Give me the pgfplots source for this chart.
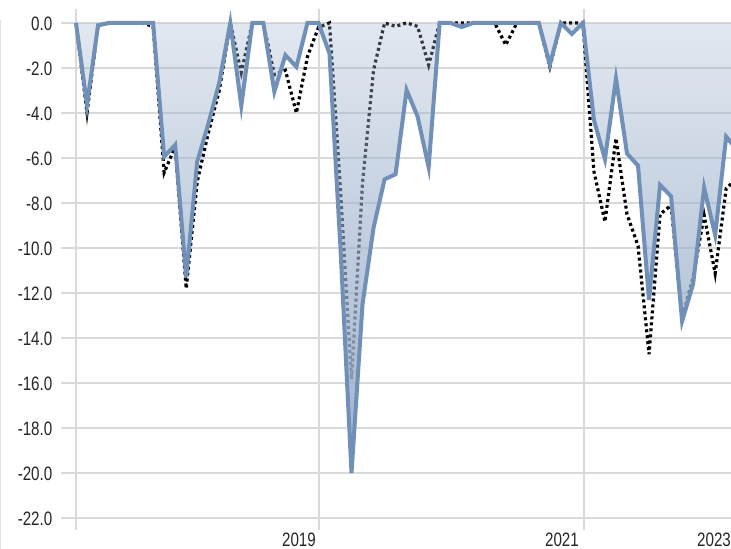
\documentclass[border=0pt]{standalone}
\usepackage{fontspec}
\setmainfont{Liberation Sans}[FakeStretch=0.78]
\usepackage{pgfplots}
\usepackage{pgfplotstable}
\pgfplotsset{compat=1.18}
\usetikzlibrary{fadings}
\definecolor{gridc}{HTML}{D9D9D9}
\definecolor{blueline}{HTML}{7090B8}
\definecolor{areac}{HTML}{9EB2CD}
\tikzfading[name=areafade, top color=transparent!70, bottom color=transparent!0]

\pgfplotstableread{
i blue dot
0 0 0
1 -3.64 -3.98
2 -0.10 -0.10
3 0 0
4 0 0
5 0 0
6 0 0
7 0 -0.15
8 -5.94 -6.65
9 -5.42 -5.50
10 -11.30 -11.80
11 -6.16 -7.05
12 -4.50 -4.90
13 -2.65 -3.00
14 0 0
15 -3.68 -2.20
16 0 0
17 0 0
18 -3.05 -2.30
19 -1.43 -2.10
20 -1.95 -4.00
21 0 -1.50
22 0 -0.20
23 -1.35 0
24 -10.00 -7.40
25 -20.00 -15.85
26 -12.50 -7.10
27 -9.10 -2.10
28 -6.95 0
29 -6.72 -0.15
30 -2.98 0
31 -4.16 -0.15
32 -6.41 -1.87
33 0 0
34 0 0
35 -0.18 0
36 0 0
37 0 0
38 0 0
39 0 -0.98
40 0 0
41 0 0
42 0 0
43 -1.85 -1.95
44 0 0
45 -0.49 0
46 0 0
47 -4.31 -6.60
48 -6.05 -8.83
49 -2.47 -5.13
50 -5.80 -8.50
51 -6.34 -9.90
52 -12.31 -14.72
53 -7.20 -8.50
54 -7.70 -8.10
55 -13.25 -13.10
56 -11.60 -11.30
57 -7.32 -8.55
58 -9.42 -11.13
59 -5.05 -7.35
60 -5.65 -6.90
}\data

\begin{document}
\begin{tikzpicture}
\useasboundingbox (0,0) rectangle (731bp,549bp);
\draw[color=gridc!80, line width=1.2bp] (0.6bp,0) -- (0.6bp,529bp);
\begin{axis}[
  at={(61bp,31bp)}, anchor=south west,
  scale only axis, width=670bp, height=508.5bp,
  xmin=-1.361, xmax=59.438, ymin=-22, ymax=0.6,
  ytick={-22,-20,...,0},
  xtick={0,22.05,46.1}, xticklabels={},
  grid=major, grid style={gridc, line width=1.8bp},
  axis line style={draw=none},
  ytick style={draw=none},
  xtick style={gridc, line width=1.8bp},
  xtick align=outside, xtick pos=left,
  major tick length=12bp,
  yticklabel style={font=\fontsize{19.5}{21}\selectfont, anchor=east, inner sep=0pt, xshift=-8.5bp, yshift=-0.5bp, text=black!85,
    /pgf/number format/fixed, /pgf/number format/fixed zerofill,
    /pgf/number format/precision=1, /pgf/number format/assume math mode=true},
]
\addplot[black, line width=3.2bp, dash pattern=on 3bp off 3bp] table[x=i, y=dot] {\data};
\addplot[draw=none, fill=areac, path fading=areafade] table[x=i, y=blue] {\data} \closedcycle;
\addplot[blueline, line width=4bp] table[x=i, y=blue] {\data};
\coordinate (t19) at (axis cs:22.05,-22);
\coordinate (t21) at (axis cs:46.1,-22);
\end{axis}
\begin{scope}[every node/.style={font=\fontsize{19.5}{21}\selectfont, inner sep=0pt, text=black!85}]
\node[anchor=north east] at ([xshift=-3bp, yshift=-14.5bp]t19) {2019};
\node[anchor=north east] at ([xshift=-5bp, yshift=-14.5bp]t21) {2021};
\node[anchor=north west] at (697bp, 16.3bp) {2023};
\end{scope}
\end{tikzpicture}
\end{document}
